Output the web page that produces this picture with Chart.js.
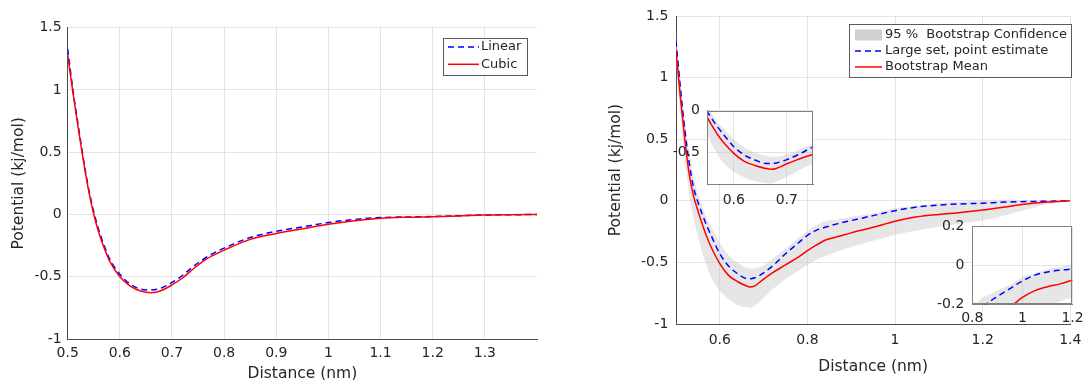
<!DOCTYPE html>
<html>
<head>
<meta charset="utf-8">
<script src="https://cdn.jsdelivr.net/npm/chart.js@4.4.1/dist/chart.umd.min.js"></script>
<style>
  html, body { margin: 0; padding: 0; background: #fff; overflow: hidden; }
  #wrap { position: relative; width: 1089px; height: 380px; overflow: hidden; }
  canvas { position: absolute; }
</style>
</head>
<body>
<div id="wrap">
  <canvas id="leftChart" width="545" height="400" style="left:0;top:0;width:545px;height:400px"></canvas>
  <canvas id="rightChart" width="544" height="380" style="left:545px;top:0;width:544px;height:380px"></canvas>
  <canvas id="inset1" width="155" height="125" style="left:665px;top:95px;width:155px;height:125px"></canvas>
  <canvas id="inset2" width="164" height="125" style="left:925px;top:210px;width:164px;height:125px"></canvas>
</div>
<script>
// ---- data: left panel (interpolation comparison)
const leftDist = [0.5, 0.51, 0.52, 0.53, 0.54, 0.55, 0.56, 0.57, 0.58, 0.6, 0.62, 0.64, 0.66, 0.68, 0.7, 0.72, 0.74, 0.76, 0.78, 0.8, 0.85, 0.9, 0.95, 1.0, 1.05, 1.1, 1.15, 1.2, 1.25, 1.3, 1.35, 1.4];
const linearPot = [1.33, 1.0, 0.72, 0.45, 0.21, 0.02, -0.13, -0.25, -0.355, -0.48, -0.56, -0.60, -0.607, -0.59, -0.545, -0.49, -0.42, -0.36, -0.31, -0.27, -0.185, -0.135, -0.10, -0.065, -0.04, -0.025, -0.02, -0.016, -0.01, -0.004, -0.002, 0];
const cubicPot = [1.28, 0.98, 0.70, 0.435, 0.195, 0.0, -0.15, -0.27, -0.37, -0.50, -0.575, -0.615, -0.628, -0.61, -0.566, -0.51, -0.44, -0.374, -0.326, -0.286, -0.20, -0.152, -0.115, -0.078, -0.05, -0.03, -0.022, -0.018, -0.012, -0.005, -0.002, 0];

// ---- data: right panel (bootstrap)
const rightDist = [0.5, 0.51, 0.52, 0.53, 0.54, 0.55, 0.56, 0.57, 0.58, 0.6, 0.62, 0.64, 0.66, 0.67, 0.68, 0.7, 0.72, 0.75, 0.78, 0.8, 0.82, 0.84, 0.87, 0.9, 0.95, 1.0, 1.05, 1.1, 1.15, 1.2, 1.25, 1.3, 1.35, 1.4];
const pointEstimate = [1.30, 0.92, 0.58, 0.31, 0.11, -0.01, -0.11, -0.20, -0.28, -0.43, -0.53, -0.59, -0.63, -0.632, -0.625, -0.585, -0.53, -0.43, -0.34, -0.28, -0.24, -0.215, -0.185, -0.16, -0.12, -0.08, -0.05, -0.034, -0.025, -0.019, -0.01, -0.006, -0.003, 0];
const bootMean = [1.22, 0.84, 0.50, 0.22, 0.04, -0.08, -0.19, -0.29, -0.375, -0.51, -0.605, -0.655, -0.69, -0.70, -0.69, -0.635, -0.585, -0.52, -0.455, -0.405, -0.36, -0.32, -0.29, -0.26, -0.215, -0.165, -0.13, -0.11, -0.095, -0.075, -0.05, -0.025, -0.01, 0];
const ciUpper = [1.33, 1.0, 0.66, 0.40, 0.20, 0.06, -0.05, -0.14, -0.21, -0.34, -0.44, -0.50, -0.54, -0.55, -0.55, -0.525, -0.475, -0.39, -0.30, -0.245, -0.20, -0.165, -0.15, -0.13, -0.10, -0.06, -0.04, -0.02, -0.01, 0.0, 0.0, 0.0, 0.0, 0];
const ciLower = [1.12, 0.70, 0.34, 0.06, -0.14, -0.29, -0.42, -0.53, -0.62, -0.73, -0.80, -0.845, -0.865, -0.87, -0.85, -0.79, -0.72, -0.635, -0.565, -0.52, -0.48, -0.45, -0.41, -0.375, -0.325, -0.275, -0.24, -0.21, -0.185, -0.16, -0.12, -0.07, -0.025, 0];

// ---- tick labels
const leftXTicks = [0.5, 0.6, 0.7, 0.8, 0.9, 1, 1.1, 1.2, 1.3];
const leftYTicks = [-1, -0.5, 0, 0.5, 1, 1.5];
const rightXTicks = [0.6, 0.8, 1, 1.2, 1.4];
const rightYTicks = [-1, -0.5, 0, 0.5, 1, 1.5];
const inset1XTicks = [0.6, 0.7];
const inset1YTicks = [-0.5, 0];
const inset2XTicks = [0.8, 1, 1.2];
const inset2YTicks = [-0.2, 0, 0.2];

Chart.defaults.font.family = "'DejaVu Sans', sans-serif";
Chart.defaults.color = '#262626';
Chart.defaults.animation = false;

const GRID = '#e3e3e3';
const AXIS = '#4d4d4d';
const BAND = 'rgba(200,200,200,0.45)';

function pts(xs, ys) {
    return xs.map((x, i) => ({ x: x, y: ys[i] }));
}

function linAxis(o) {
    return {
        type: 'linear',
        min: o.min,
        max: o.max,
        afterBuildTicks: s => { s.ticks = o.ticks.map(v => ({ value: v })); },
        afterFit: s => {
            if (s.isHorizontal()) s.height = o.size; else s.width = o.size;
        },
        grid: { color: GRID, drawTicks: false, lineWidth: 1 },
        border: { display: true, color: o.axisColor || AXIS, width: 1 },
        ticks: {
            padding: o.pad,
            font: { size: 14 },
            color: '#262626',
            autoSkip: false,
            maxRotation: 0,
            callback: v => String(v)
        },
        title: o.title
            ? { display: true, text: o.title, font: { size: 15.5 }, color: '#262626', padding: 0 }
            : { display: false }
    };
}

function lineSet(label, xs, ys, color, dash, order) {
    return {
        label: label,
        data: pts(xs, ys),
        borderColor: color,
        borderWidth: 1.5,
        borderDash: dash,
        pointRadius: 0,
        fill: false,
        cubicInterpolationMode: 'monotone',
        order: order
    };
}

function bandSets(label) {
    return [
        { label: '', data: pts(rightDist, ciLower), borderWidth: 0, pointRadius: 0, fill: false, cubicInterpolationMode: 'monotone', order: 5 },
        { label: label, data: pts(rightDist, ciUpper), borderWidth: 0, pointRadius: 0, fill: '-1', backgroundColor: BAND, patchColor: '#d0d0d0', cubicInterpolationMode: 'monotone', order: 4 }
    ];
}

// legend box drawn inside the plot
const boxLegend = {
    id: 'boxLegend',
    afterDraw(chart, args, o) {
        const ctx = chart.ctx;
        const items = chart.data.datasets.filter(d => d.label);
        ctx.save();
        ctx.fillStyle = '#fff';
        ctx.fillRect(o.x, o.y, o.w, o.h);
        ctx.strokeStyle = '#5a5a5a';
        ctx.lineWidth = 1;
        ctx.strokeRect(Math.round(o.x) + 0.5, Math.round(o.y) + 0.5, Math.round(o.w), Math.round(o.h));
        ctx.font = "13px 'DejaVu Sans', sans-serif";
        ctx.textBaseline = 'middle';
        ctx.textAlign = 'left';
        items.forEach((d, i) => {
            const y = o.y + o.row0 + i * o.rowGap;
            if (d.patchColor) {
                ctx.fillStyle = d.patchColor;
                ctx.fillRect(o.sx, y - 5.5, o.sw, 11);
            } else {
                ctx.strokeStyle = d.borderColor;
                ctx.lineWidth = d.borderWidth;
                ctx.setLineDash(d.borderDash || []);
                ctx.beginPath();
                ctx.moveTo(o.sx, y);
                ctx.lineTo(o.sx + o.sw, y);
                ctx.stroke();
                ctx.setLineDash([]);
            }
            ctx.fillStyle = '#262626';
            ctx.fillText(d.label, o.tx, y);
        });
        ctx.restore();
    }
};

// white background + full box for the insets
const insetFrame = {
    id: 'insetFrame',
    beforeDraw(chart) {
        const a = chart.chartArea, ctx = chart.ctx;
        ctx.save();
        ctx.fillStyle = '#fff';
        ctx.fillRect(a.left, a.top, a.width, a.height);
        ctx.restore();
    },
    afterDraw(chart) {
        const a = chart.chartArea, ctx = chart.ctx;
        ctx.save();
        ctx.strokeStyle = '#808080';
        ctx.lineWidth = 1;
        ctx.strokeRect(Math.round(a.left) + 0.5, Math.round(a.top) + 0.5, Math.round(a.width) - 1, Math.round(a.height) - 1);
        ctx.restore();
    }
};

// left panel
new Chart(document.getElementById('leftChart'), {
    type: 'line',
    data: {
        datasets: [
            lineSet('Linear', leftDist, linearPot, '#0000ff', [6, 4], 1),
            lineSet('Cubic', leftDist, cubicPot, '#ff0000', [], 0)
        ]
    },
    options: {
        responsive: false,
        layout: { padding: { left: 9.7, top: 27.7, right: 8, bottom: 16.7 } },
        plugins: {
            legend: { display: false },
            tooltip: { enabled: false },
            boxLegend: { x: 442.7, y: 38, w: 84, h: 36.5, row0: 9, rowGap: 17.3, sx: 448, sw: 31, tx: 481 }
        },
        scales: {
            x: linAxis({ min: 0.5, max: 1.4, ticks: leftXTicks, size: 44.3, pad: 5.6, title: 'Distance (nm)' }),
            y: linAxis({ min: -1, max: 1.5, ticks: leftYTicks, size: 58, pad: 6, title: 'Potential (kj/mol)' })
        }
    },
    plugins: [boxLegend]
});

// right panel
function bootSets(withLabels) {
    const b = bandSets(withLabels ? '95 %  Bootstrap Confidence' : '');
    return b.concat([
        lineSet(withLabels ? 'Large set, point estimate' : '', rightDist, pointEstimate, '#0000ff', [6, 4], 1),
        lineSet(withLabels ? 'Bootstrap Mean' : '', rightDist, bootMean, '#ff0000', [], 0)
    ]);
}

new Chart(document.getElementById('rightChart'), {
    type: 'line',
    data: { datasets: bootSets(true) },
    options: {
        responsive: false,
        layout: { padding: { left: 61.7, top: 15.3, right: 11, bottom: 3.7 } },
        plugins: {
            legend: { display: false },
            tooltip: { enabled: false },
            boxLegend: { x: 304.3, y: 24.3, w: 222.4, h: 53, row0: 10.7, rowGap: 16, sx: 310, sw: 27, tx: 340 }
        },
        scales: {
            x: linAxis({ min: 0.5, max: 1.4, ticks: rightXTicks, size: 52.3, pad: 7.6, title: 'Distance (nm)' }),
            y: linAxis({ min: -1, max: 1.5, ticks: rightYTicks, size: 69.3, pad: 7.7, title: 'Potential (kj/mol)' })
        }
    },
    plugins: [boxLegend]
});

// insets
function insetChart(id, pad, xo, yo) {
    new Chart(document.getElementById(id), {
        type: 'line',
        data: { datasets: bootSets(false) },
        options: {
            responsive: false,
            layout: { padding: pad },
            plugins: { legend: { display: false }, tooltip: { enabled: false } },
            scales: {
                x: linAxis(Object.assign({ axisColor: '#808080' }, xo)),
                y: linAxis(Object.assign({ axisColor: '#808080' }, yo))
            }
        },
        plugins: [insetFrame]
    });
}

insetChart('inset1', { left: 0, top: 9.7, right: 6.7, bottom: 5.7 },
    { min: 0.55, max: 0.75, ticks: inset1XTicks, size: 30, pad: 7.3 },
    { min: -0.88, max: 0, ticks: inset1YTicks, size: 42.3, pad: 7.3 });

insetChart('inset2', { left: 0, top: 14.7, right: 11.3, bottom: 5.7 },
    { min: 0.8, max: 1.2, ticks: inset2XTicks, size: 25, pad: 5.3 },
    { min: -0.2, max: 0.2, ticks: inset2YTicks, size: 47.3, pad: 8 });
</script>
</body>
</html>
